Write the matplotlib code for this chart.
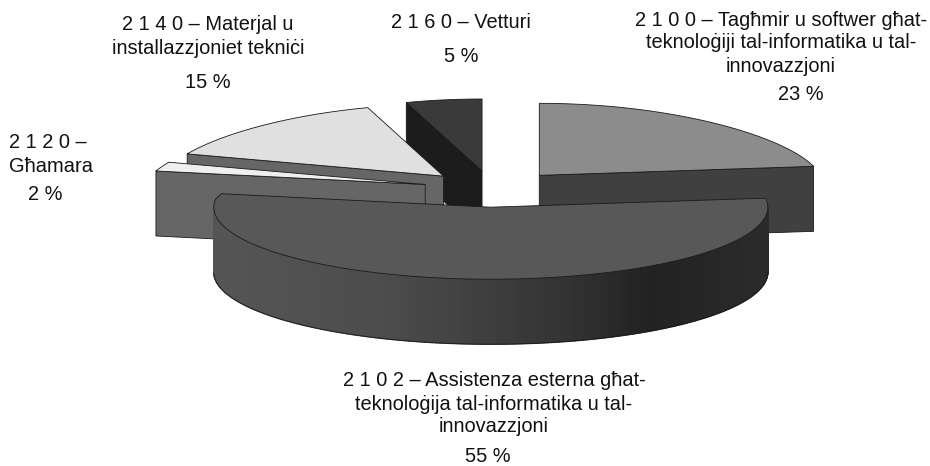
import numpy as np
import matplotlib
matplotlib.use("Agg")
import matplotlib.pyplot as plt
from matplotlib.patches import Polygon

plt.rcParams['font.family'] = ['Liberation Sans', 'DejaVu Sans']

# data (clockwise from 12 o'clock)
names = ["2100", "2102", "2120", "2140", "2160"]
values = [23, 55, 2, 15, 5]
top_colors = ["#8c8c8c", "#585858", "#efefef", "#e0e0e0", "#3a3a3a"]
wall_colors = ["#404040", "#555555", "#666666", "#666666", "#1c1c1c"]
draw_order = ["2160", "2140", "2120", "2100", "2102"]

labels = [
    (["2 1 4 0 – Materjal u", "installazzjoniet tekniċi", "15 %"], [208, 208, 208], [24, 48, 83]),
    (["2 1 6 0 – Vetturi", "5 %"], [461, 461], [23, 56]),
    (["2 1 0 0 – Tagħmir u softwer għat-", "teknoloġiji tal-informatika u tal-", "innovazzjoni", "23 %"],
     [781, 781, 781, 801], [20, 43, 67, 94]),
    (["2 1 2 0 –", "Għamara", "2 %"], [48, 51, 45], [143, 167, 194]),
    (["2 1 0 2 – Assistenza esterna għat-", "teknoloġija tal-informatika u tal-", "innovazzjoni", "55 %"],
     [494, 494, 494, 488], [381, 404, 427, 456]),
]

# projection parameters
CX, CY = 493.0, 189.0
R, K = 277.0, 0.26
EXPLODE, DEPTH = 70.0, 65.0
PERSP = 0.0019


def project(theta, radius, ox, oy):
    dy = -radius * K * np.cos(theta)
    dx = radius * np.sin(theta)
    f = 1 + PERSP * np.minimum(dy + 8, 0)
    return ox + dx * f, oy + dy


fig = plt.figure(figsize=(9.3, 4.66), dpi=100)
ax = fig.add_axes([0, 0, 1, 1])
ax.set_xlim(0, 930)
ax.set_ylim(466, 0)
ax.axis("off")

fractions = np.array(values) / sum(values)
ends = np.cumsum(fractions) * 2 * np.pi
starts = ends - fractions * 2 * np.pi
lw = 0.6
dark = "#1a1a1a"

for name in draw_order:
    i = names.index(name)
    z = draw_order.index(name) * 10
    a0, a1 = starts[i], ends[i]
    mid = (a0 + a1) / 2
    ox = CX + EXPLODE * np.sin(mid)
    oy = CY - EXPLODE * K * np.cos(mid)
    ts = np.linspace(a0, a1, 240)
    xs, ys = project(ts, R, ox, oy)

    # radial walls that face the viewer
    for a, visible in ((a1, np.sin(a1) > 0), (a0, np.sin(a0) < 0)):
        if not visible:
            continue
        ex, ey = project(np.array(a), R, ox, oy)
        quad = [(ox, oy), (ex, ey), (ex, ey + DEPTH), (ox, oy + DEPTH)]
        ax.add_patch(Polygon(quad, closed=True, fc=wall_colors[i], ec=dark, lw=lw, zorder=z + 1))

    # outer curved wall, front-facing part only
    front = np.cos(ts) < 0
    if front.any():
        idx = np.where(front)[0]
        x0, x1 = xs[idx].min(), xs[idx].max()
        for p, q in zip(idx[:-1], idx[1:]):
            s = (xs[p] - x0) / (x1 - x0)
            band = np.floor(s * 60) / 60
            level = np.interp(band, [0, 0.3, 0.47, 0.63, 0.78, 1],
                              [0x55, 0x4c, 0x40, 0x33, 0x22, 0x2c]) / 255
            c = (level, level, level)
            ax.add_patch(Polygon([(xs[p], ys[p]), (xs[q], ys[q]),
                                  (xs[q], ys[q] + DEPTH), (xs[p], ys[p] + DEPTH)],
                                 closed=True, fc=c, ec=c, lw=1.0, zorder=z + 2))
        ax.plot(xs[idx], ys[idx] + DEPTH, color=dark, lw=lw, zorder=z + 3)

    # top surface
    poly = np.column_stack([np.r_[ox, xs], np.r_[oy, ys]])
    ax.add_patch(Polygon(poly, closed=True, fc=top_colors[i], ec=dark, lw=lw, zorder=z + 4))

for lines, xpos, ypos in labels:
    for line, x, y in zip(lines, xpos, ypos):
        ax.text(x, y, line, ha="center", va="center", fontsize=14.4, color="#111111", zorder=200)

fig.savefig("out.png", dpi=100)
